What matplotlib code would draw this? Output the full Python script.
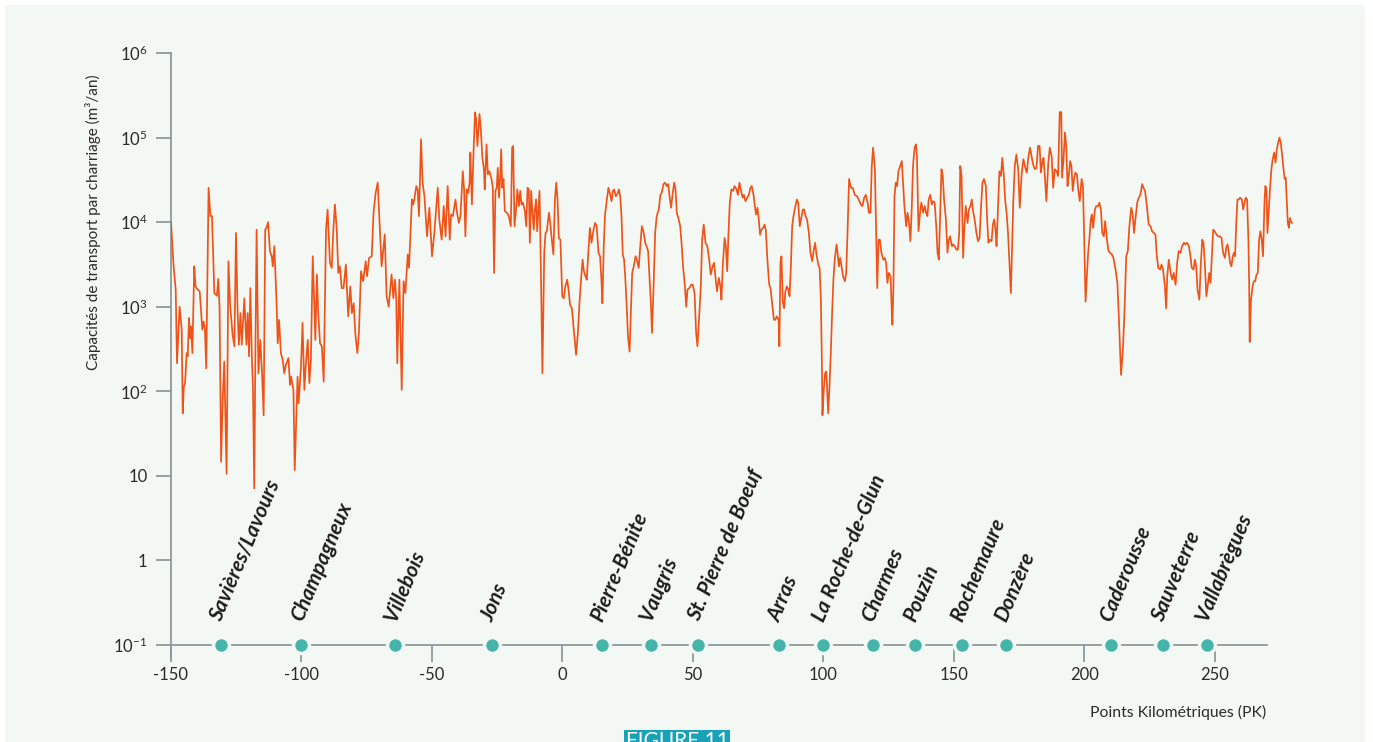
import numpy as np
import matplotlib.pyplot as plt
from matplotlib.patches import Rectangle

# Donnees (PK, capacite en m3/an)
pk = [-150.0, -149.0, -148.2, -147.7, -146.7, -145.9, -145.5, -145.1, -144.6, -144.0,
      -143.6, -143.1, -142.7, -142.3, -141.8, -141.1, -140.6, -139.8, -139.0, -138.0,
      -137.5, -137.0, -136.5, -135.6, -134.9, -134.3, -133.4, -132.4, -131.9, -131.4,
      -130.8, -130.2, -129.6, -128.7, -128.0, -127.3, -126.4, -125.7, -125.1, -124.5,
      -124.0, -123.4, -122.9, -121.9, -121.1, -120.6, -120.1, -119.6, -119.0, -118.6,
      -118.1, -117.6, -117.2, -116.5, -115.8, -115.1, -114.5, -113.9, -113.4, -112.8,
      -112.1, -111.4, -111.0, -110.4, -109.6, -109.1, -108.6, -107.9, -107.2, -106.6,
      -106.0, -105.0, -104.4, -104.0, -103.1, -102.6, -102.0, -101.5, -101.1, -100.2,
      -99.6, -98.9, -98.4, -97.6, -97.0, -96.4, -95.7, -95.1, -94.7, -94.1,
      -93.6, -92.9, -92.2, -91.5, -90.6, -90.0, -89.1, -88.4, -87.8, -87.2,
      -86.5, -85.9, -85.3, -84.6, -83.9, -83.0, -82.1, -81.3, -80.7, -80.0,
      -79.4, -78.6, -78.0, -77.2, -76.4, -75.4, -74.9, -74.1, -73.1, -72.4,
      -71.6, -70.8, -69.9, -69.3, -68.1, -67.4, -66.6, -65.5, -64.8, -64.2,
      -63.7, -63.3, -62.5, -61.6, -60.9, -60.2, -59.3, -58.8, -57.7, -57.2,
      -56.8, -56.0, -55.5, -55.0, -54.2, -53.6, -52.9, -51.9, -51.0, -50.0,
      -49.1, -47.8, -47.2, -46.3, -45.5, -44.8, -44.0, -43.2, -42.7, -42.0,
      -41.0, -40.4, -39.7, -39.1, -38.2, -37.7, -37.2, -36.7, -36.1, -35.6,
      -35.3, -34.7, -34.1, -33.5, -33.1, -32.6, -31.8, -31.3, -30.7, -30.1,
      -29.8, -29.1, -28.6, -28.0, -27.2, -26.7, -26.2, -25.7, -25.2, -24.8,
      -24.3, -23.9, -23.5, -23.1, -22.6, -22.1, -21.3, -20.6, -19.8, -19.3,
      -18.9, -18.4, -17.8, -17.3, -16.7, -16.2, -15.7, -15.2, -14.4, -13.9,
      -13.4, -12.9, -12.5, -12.0, -11.5, -11.0, -10.6, -10.1, -9.7, -9.3,
      -8.8, -8.3, -7.7, -7.0, -6.5, -6.0, -5.2, -4.7, -4.1, -3.5,
      -2.9, -2.4, -1.9, -1.4, -0.8, -0.1, 0.5, 1.1, 1.8, 2.3,
      2.9, 3.6, 4.2, 4.7, 5.2, 5.9, 6.5, 7.1, 7.7, 8.2,
      8.8, 9.3, 9.8, 10.5, 11.1, 11.9, 12.5, 13.1, 13.8, 14.4,
      14.9, 15.3, 15.8, 16.3, 17.0, 17.6, 18.1, 18.8, 19.3, 19.8,
      20.4, 20.9, 21.6, 22.1, 22.6, 23.1, 23.6, 24.1, 24.6, 25.1,
      25.7, 26.2, 26.7, 27.3, 28.0, 28.5, 29.2, 29.7, 30.4, 31.0,
      31.7, 32.2, 32.8, 33.3, 33.8, 34.3, 34.9, 35.5, 36.1, 36.9,
      37.5, 38.0, 38.7, 39.3, 39.9, 40.5, 41.0, 41.6, 42.1, 42.8,
      43.3, 43.8, 44.4, 45.1, 45.7, 46.2, 46.9, 47.4, 47.9, 48.6,
      49.3, 49.9, 50.6, 51.2, 51.7, 52.3, 53.0, 53.5, 54.1, 54.8,
      55.5, 56.2, 56.8, 57.5, 58.1, 58.7, 59.2, 59.9, 60.5, 60.9,
      61.4, 62.1, 62.6, 63.1, 63.6, 64.1, 64.7, 65.4, 65.9, 66.7,
      67.2, 67.8, 68.3, 69.0, 69.5, 70.1, 70.8, 71.4, 72.0, 72.5,
      73.2, 73.7, 74.2, 74.7, 75.2, 75.7, 76.2, 76.9, 77.4, 77.9,
      78.5, 79.2, 79.7, 80.3, 81.0, 81.5, 82.1, 82.8, 83.1, 83.5,
      83.9, 84.4, 84.9, 85.4, 86.0, 86.5, 87.0, 87.5, 88.0, 88.5,
      89.1, 89.8, 90.3, 90.9, 91.4, 92.1, 92.6, 93.1, 93.7, 94.4,
      95.0, 95.7, 96.2, 96.8, 97.3, 98.0, 98.5, 99.0, 99.4, 99.6,
      100.1, 100.6, 101.1, 101.8, 102.3, 102.8, 103.3, 103.8, 104.3, 105.0,
      105.4, 105.9, 106.4, 106.9, 107.5, 108.2, 108.7, 109.2, 109.8, 110.5,
      111.2, 112.0, 112.8, 113.5, 114.3, 114.9, 115.6, 116.2, 116.9, 117.4,
      118.0, 118.5, 119.0, 119.7, 120.2, 120.6, 121.1, 121.6, 122.2, 122.9,
      123.5, 124.0, 124.5, 125.0, 125.7, 126.0, 126.4, 126.8, 127.2, 127.7,
      128.2, 128.7, 129.4, 130.0, 130.5, 131.0, 131.7, 132.2, 132.8, 133.3,
      133.8, 134.3, 134.9, 135.4, 135.8, 136.4, 137.0, 137.5, 138.2, 138.8,
      139.3, 139.8, 140.3, 140.9, 141.5, 142.0, 142.6, 143.2, 143.7, 144.2,
      144.7, 145.2, 145.7, 146.2, 146.9, 147.5, 148.0, 148.5, 149.2, 149.7,
      150.3, 150.9, 151.5, 152.0, 152.4, 152.9, 153.5, 154.0, 154.5, 155.2,
      155.7, 156.3, 156.8, 157.3, 157.9, 158.6, 159.2, 159.8, 160.3, 160.9,
      161.5, 162.2, 162.7, 163.2, 163.7, 164.4, 164.9, 165.4, 165.9, 166.3,
      167.0, 167.4, 168.0, 168.5, 169.1, 169.6, 170.2, 170.7, 171.3, 171.8,
      172.7, 173.3, 173.9, 174.6, 175.2, 175.9, 176.6, 177.3, 177.9, 178.4,
      179.1, 179.7, 180.3, 181.0, 181.6, 182.2, 182.8, 183.3, 183.8, 184.3,
      184.8, 185.4, 186.1, 186.7, 187.4, 188.0, 188.6, 189.3, 189.9, 190.5,
      191.1, 191.4, 192.0, 192.5, 193.0, 193.5, 194.0, 194.5, 195.0, 195.5,
      196.0, 196.5, 197.1, 197.6, 198.2, 198.9, 199.4, 199.9, 200.4, 200.9,
      201.4, 201.9, 202.4, 202.8, 203.3, 204.0, 204.5, 205.2, 205.7, 206.3,
      206.8, 207.4, 207.9, 208.6, 209.2, 209.8, 210.5, 211.1, 211.9, 212.6,
      213.1, 213.7, 214.0, 214.7, 215.3, 216.0, 216.6, 217.2, 217.9, 218.4,
      219.0, 219.5, 220.2, 220.8, 221.4, 222.1, 222.6, 223.2, 223.9, 224.6,
      225.3, 225.9, 226.6, 227.2, 227.7, 228.3, 229.0, 229.5, 230.1, 230.8,
      231.3, 231.7, 232.3, 233.0, 233.6, 234.2, 234.9, 235.5, 236.1, 236.8,
      237.4, 238.1, 238.7, 239.3, 240.0, 240.6, 241.1, 241.8, 242.3, 242.8,
      243.3, 244.0, 244.6, 245.1, 245.6, 246.1, 246.7, 247.2, 247.8, 248.3,
      248.8, 249.3, 249.9, 250.6, 251.2, 251.8, 252.5, 253.1, 253.8, 254.3,
      254.8, 255.3, 255.8, 256.3, 256.8, 257.3, 257.7, 258.1, 258.6, 259.1,
      259.6, 260.3, 260.8, 261.3, 261.8, 262.3, 262.8, 263.1, 263.3, 263.8,
      264.4, 264.9, 265.4, 265.9, 266.4, 266.9, 267.4, 267.9, 268.4, 269.0,
      269.3, 269.7, 270.1, 270.6, 271.1, 271.6, 272.1, 272.7, 273.2, 273.7,
      274.2, 274.7, 275.2, 275.7, 276.2, 276.7, 277.1, 277.5, 277.9, 278.3,
      278.7, 279.0, 279.5]

capacite = [10000, 3000, 1600, 215, 1000, 535, 55, 113, 125, 283,
            259, 735, 425, 585, 283, 3000, 1740, 1600, 1520, 535,
            670, 535, 187, 25500, 11800, 11800, 1450, 1350, 2130, 1000,
            14.7, 79, 225, 10.6, 3450, 1000, 465, 340, 7450, 920,
            355, 840, 355, 1260, 355, 840, 259, 1660, 235, 113,
            7.1, 490, 8150, 163, 405, 156, 52, 8150, 8550, 10000,
            4550, 3950, 3000, 5200, 1210, 370, 700, 283, 235, 163,
            205, 247, 119, 149, 104, 11.7, 46, 149, 72, 196,
            645, 104, 196, 405, 125, 235, 3950, 1100, 405, 2400,
            840, 370, 340, 130, 8150, 14100, 3300, 2880, 8150, 16200,
            8150, 2510, 3000, 1660, 1660, 3150, 770, 1740, 840, 1100,
            490, 283, 490, 2630, 2000, 3450, 2290, 3780, 3950, 12900,
            22200, 29300, 7450, 3000, 7150, 1330, 1000, 2400, 1260, 2090,
            1260, 215, 2090, 104, 2000, 1450, 4150, 2880, 18500, 16200,
            18500, 26700, 24400, 11800, 95500, 29300, 20300, 6800, 14800, 3950,
            7450, 25500, 10800, 6200, 15500, 6800, 26700, 6200, 12300, 11800,
            18500, 12900, 9800, 11800, 40000, 24400, 6800, 24400, 22200, 29300,
            66500, 16200, 66500, 199000, 165000, 79500, 190000, 126000, 57500, 42200,
            24400, 83200, 36700, 40000, 32400, 25500, 2510, 23400, 25500, 43900,
            19500, 32400, 72500, 25500, 32400, 13500, 12900, 11800, 8950, 76000,
            79500, 8950, 14100, 24400, 15500, 23400, 16200, 17000, 13500, 8950,
            25500, 24400, 5700, 23400, 12900, 8150, 14100, 18500, 7800, 12900,
            23400, 3000, 163, 4350, 7450, 7800, 12900, 9800, 6200, 4150,
            18500, 29300, 18500, 6500, 6200, 1330, 1260, 1740, 2090, 1600,
            1050, 960, 585, 405, 270, 490, 1100, 2090, 3600, 2630,
            2290, 2090, 3950, 8550, 5700, 8150, 9800, 8950, 4350, 3950,
            2090, 1100, 5200, 12300, 18500, 25500, 22200, 17700, 23400, 24400,
            20300, 21000, 24400, 20300, 11800, 4150, 3600, 2090, 1000, 445,
            295, 840, 2510, 3000, 3950, 3600, 2880, 4730, 8950, 7800,
            5700, 5200, 4550, 2290, 1210, 490, 1740, 7450, 11800, 14100,
            21000, 22200, 28200, 29300, 26700, 28200, 20300, 14800, 20300, 29300,
            24400, 12900, 11200, 8950, 5200, 3000, 1740, 1000, 1600, 1660,
            1820, 1820, 1450, 490, 340, 700, 1740, 6200, 9350, 5700,
            5200, 3600, 2400, 3000, 3300, 2090, 1520, 2190, 1740, 1210,
            3000, 6500, 5200, 2630, 7450, 17000, 24400, 23400, 26700, 24400,
            21000, 29300, 24400, 19500, 21000, 17700, 19500, 21000, 25500, 26700,
            21000, 15500, 12300, 14800, 10800, 7100, 8150, 8550, 9350, 8150,
            3600, 1820, 1660, 1100, 700, 700, 770, 700, 340, 3300,
            3950, 1150, 960, 1520, 1740, 1600, 1330, 3000, 8950, 11800,
            14800, 18500, 17000, 8950, 10800, 14100, 14100, 11800, 10800, 7450,
            4350, 3450, 4550, 5700, 4150, 3150, 2880, 1210, 196, 52,
            104, 163, 171, 55, 113, 283, 840, 2090, 3600, 5450,
            4350, 3000, 3780, 3000, 2290, 2000, 2510, 7450, 32400, 25500,
            25500, 21000, 20300, 18500, 16200, 15500, 19500, 21000, 17000, 12900,
            12900, 46200, 76000, 42200, 7450, 1660, 6200, 6200, 4350, 3600,
            3780, 3300, 1910, 2510, 2290, 1210, 612, 1740, 20300, 29300,
            26700, 40000, 46200, 52800, 29300, 15500, 8950, 12900, 9800, 5950,
            14100, 46200, 76000, 83200, 60500, 7800, 12900, 17000, 12900, 15500,
            12900, 11800, 18500, 21000, 16200, 17700, 17000, 8950, 4350, 3600,
            12900, 42200, 35100, 18500, 10800, 4350, 6200, 6800, 5200, 5450,
            5200, 4730, 4730, 7450, 46200, 35100, 3780, 8950, 15500, 9800,
            14100, 15500, 18500, 13500, 10800, 7450, 5950, 6500, 14100, 29300,
            32400, 26700, 10800, 5700, 6200, 5950, 9350, 10800, 8150, 5200,
            18500, 40000, 35100, 57500, 35100, 18500, 12300, 7450, 3000, 1450,
            17000, 46200, 63000, 42200, 14800, 36700, 55500, 43900, 38500, 55500,
            76000, 60500, 48300, 42200, 43900, 79500, 79500, 38500, 50500, 57500,
            35100, 17700, 48300, 76000, 60500, 25500, 42200, 40000, 35100, 200000,
            200000, 33500, 57500, 115000, 79500, 26700, 35100, 52800, 46200, 23400,
            32400, 38500, 36700, 24400, 17700, 32400, 26700, 6200, 1150, 2290,
            4350, 6500, 10800, 12300, 8550, 14100, 15500, 15500, 17000, 14100,
            7450, 6800, 10300, 6200, 4550, 4350, 4150, 3780, 2750, 1910,
            840, 283, 156, 310, 840, 3950, 4550, 8950, 14800, 12900,
            7450, 10800, 17000, 19500, 21000, 28200, 25500, 23400, 15500, 9350,
            8950, 7800, 7450, 7100, 3950, 2880, 2750, 3150, 2750, 1740,
            960, 2290, 3600, 2510, 2090, 2510, 1820, 3300, 4550, 4350,
            5200, 5700, 5450, 5700, 5200, 3950, 2880, 2750, 3600, 3000,
            1600, 1210, 3300, 6200, 5700, 3300, 1330, 1740, 2510, 1910,
            3950, 8150, 7800, 7100, 6800, 6800, 6500, 4350, 3780, 4950,
            5450, 4350, 3300, 3000, 3950, 4350, 3950, 8950, 18500, 18500,
            19500, 18500, 14100, 17000, 19500, 18500, 6200, 1740, 385, 1210,
            1740, 2000, 2000, 2400, 2510, 6200, 7800, 6200, 3950, 18500,
            26700, 24400, 7450, 14100, 25500, 42200, 55500, 66500, 50500, 72500,
            87000, 100000, 87000, 63000, 43900, 32400, 33500, 18500, 9800, 8550,
            11200, 10300, 9800]

# Barrages / sites le long du Rhone
sites = ["Savières/Lavours", "Champagneux", "Villebois", "Jons", "Pierre-Bénite",
         "Vaugris", "St. Pierre de Boeuf", "Arras", "La Roche-de-Glun", "Charmes",
         "Pouzin", "Rochemaure", "Donzère", "Caderousse", "Sauveterre", "Vallabrègues"]
sites_pk = [-131, -100, -64, -27, 15, 34, 52, 83, 100, 119, 135, 153, 170, 210, 230, 247]

yticks = [1e-1, 1, 10, 1e2, 1e3, 1e4, 1e5, 1e6]
ylabels = [r'$\mathregular{10^{-1}}$', '1', '10', r'$\mathregular{10^{2}}$',
           r'$\mathregular{10^{3}}$', r'$\mathregular{10^{4}}$',
           r'$\mathregular{10^{5}}$', r'$\mathregular{10^{6}}$']
xticks = [-150, -100, -50, 0, 50, 100, 150, 200, 250]

# Couleurs
fond = '#f4f8f5'
orange = '#ee5419'
turquoise = '#45b5aa'
gris = '#8d999d'
texte = '#2a2a2a'

plt.rcParams['font.family'] = ['Lato', 'DejaVu Sans']
plt.rcParams['mathtext.fontset'] = 'custom'
plt.rcParams['mathtext.rm'] = 'Lato'

W, H = 1373, 742
fig = plt.figure(figsize=(W / 100, H / 100), dpi=100)
fig.patch.set_facecolor('white')
fig.add_artist(Rectangle((5 / W, 0), 1360 / W, 1 - 5 / H, transform=fig.transFigure,
                         facecolor=fond, edgecolor='none', zorder=0))

ax = fig.add_axes([171 / W, (H - 655.6) / H, 1124.9 / W, 602.6 / H])
ax.set_facecolor('none')

ax.plot(pk, capacite, color=orange, lw=1.25, zorder=3)

ax.set_yscale('log')
ax.set_ylim(0.075, 1e6)
ax.set_xlim(-150, 281)

ax.set_yticks(yticks)
ax.set_yticklabels(ylabels)
ax.minorticks_off()
ax.set_xticks(xticks)
ax.set_xticklabels([str(t) for t in xticks])

for s in ['top', 'right']:
    ax.spines[s].set_visible(False)
ax.spines['left'].set_color(gris)
ax.spines['left'].set_linewidth(1.3)
ax.spines['bottom'].set_color(gris)
ax.spines['bottom'].set_linewidth(1.3)
ax.spines['bottom'].set_position(('data', 0.1))
ax.spines['bottom'].set_bounds(-150, 270)

ax.tick_params(axis='y', length=11, width=1.3, color=gris, labelsize=12, labelcolor=texte, pad=6)
ax.tick_params(axis='x', length=12, width=1.3, color=gris, labelsize=12, labelcolor=texte, pad=4)

# points des sites sur l'axe
ax.plot(sites_pk, [0.1] * len(sites_pk), 'o', ms=11.5, mfc=turquoise, mec=fond, mew=2.5,
        clip_on=False, zorder=5)
for nom, x in zip(sites, sites_pk):
    ax.annotate(nom, xy=(x, 0.1), xytext=(3, 15), textcoords='offset points',
                rotation=67, rotation_mode='anchor', ha='left', va='bottom',
                fontsize=15, fontweight='bold', fontstyle='italic', color='#1c1c1c')

fig.text(93 / W, 1 - 222 / H, 'Capacités de transport par charriage (m³/an)',
         rotation=90, ha='center', va='center', fontsize=11, color=texte)
fig.text(1178 / W, 1 - 712 / H, 'Points Kilométriques (PK)', ha='center', va='center',
         fontsize=11.3, color=texte)

# etiquette "FIGURE 11" coupee en bas, comme sur l'original
fig.add_artist(Rectangle((624 / W, 0), 106 / W, 12 / H, transform=fig.transFigure,
                         facecolor='#17a2b8', edgecolor='none', zorder=1))
fig.text(677 / W, 1 - 731 / H, 'FIGURE 11', ha='center', va='top', fontsize=15,
         color='white', zorder=2)

fig.savefig('out.png', dpi=100, facecolor='white')
